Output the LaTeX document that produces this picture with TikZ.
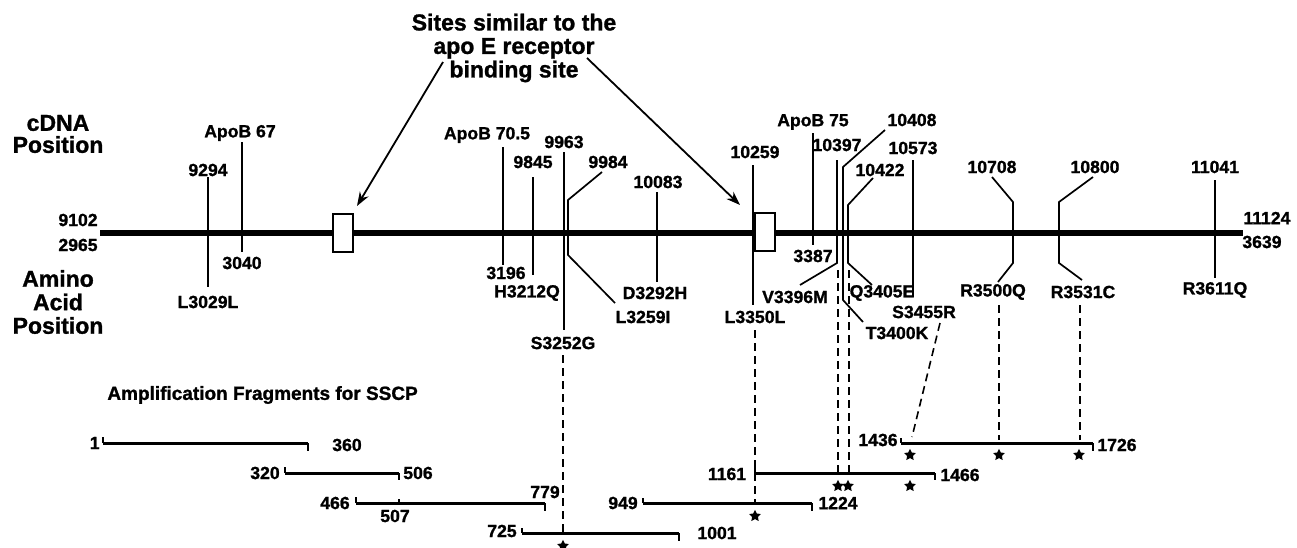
\documentclass[tikz,border=0pt]{standalone}
\usepackage{fontspec}
\setmainfont{Liberation Sans}[BoldFeatures={FakeBold=1.2}]
\usetikzlibrary{arrows.meta,shapes.geometric}
\begin{document}
\begin{tikzpicture}[x=0.5pt,y=-0.5pt,
 lbl/.style={font=\bfseries\fontsize{8.8}{9}\selectfont, inner sep=0pt},
 ttl/.style={font=\bfseries\fontsize{11.5}{11.75}\selectfont, inner sep=0pt, align=center},
 vl/.style={line width=0.85pt},
 dl/.style={line width=0.8pt, dash pattern=on 4pt off 2.5pt},
 frag/.style={line width=1.5pt},
 tick/.style={line width=0.9pt},
 arr/.style={line width=0.9pt,-{Stealth[length=7pt,width=5pt]}},
 ast/.style={star,star points=5,star point ratio=2.0,fill,inner sep=0pt,minimum size=6.2pt},
 ebox/.style={draw,fill=white,line width=0.8pt,minimum width=10pt,minimum height=19pt,inner sep=0pt},
]
\useasboundingbox (0,0) rectangle (1297,547);

% ---- titles ----
\node[ttl] (title) at (514,48) {Sites similar to the\\apo E receptor\\binding site};
\node[ttl,font=\bfseries\fontsize{11.5}{11}\selectfont] (cdna) at (58,134) {cDNA\\Position};
\node[ttl] (aap) at (58,302) {Amino\\Acid\\Position};

% ---- main line ----
\coordinate (ls) at (100,233);
\coordinate (le) at (1243,233);
\draw[line width=3.2pt] (ls) -- (le);
\node[lbl,anchor=east] (s9102) at (98,220) {9102};
\node[lbl,anchor=east] (s2965) at (98,245) {2965};
\node[lbl,anchor=west] (e11124) at (1243,218) {11124};
\node[lbl,anchor=west] (e3639) at (1242,242) {3639};

% ---- marker lines ----
% M1
\node[lbl] (c9294) at (208,170) {9294};
\node[lbl] (aL3029L) at (208,302) {L3029L};
\coordinate (m1t) at (208,177); \coordinate (m1b) at (208,287);
\draw[vl] (m1t) -- (m1b);
% M2
\node[lbl] (cApoB67) at (240,133) {ApoB 67};
\node[lbl] (a3040) at (242,263) {3040};
\coordinate (m2t) at (242,142); \coordinate (m2b) at (242,252);
\draw[vl] (m2t) -- (m2b);
% M3
\node[lbl] (cApoB705) at (487,135) {ApoB 70.5};
\node[lbl] (a3196) at (506,273) {3196};
\coordinate (m3t) at (503,147); \coordinate (m3b) at (503,265);
\draw[vl] (m3t) -- (m3b);
% M4
\node[lbl] (c9845) at (533,162) {9845};
\node[lbl] (aH3212Q) at (527,293) {H3212Q};
\coordinate (m4t) at (533,177); \coordinate (m4b) at (533,275);
\draw[vl] (m4t) -- (m4b);
% M5
\node[lbl] (c9963) at (564,142) {9963};
\node[lbl] (aS3252G) at (563,343) {S3252G};
\coordinate (m5t) at (564,152); \coordinate (m5b) at (564,330);
\draw[vl] (m5t) -- (m5b);
% M6
\node[lbl] (c9984) at (608,162) {9984};
\node[lbl] (aL3259I) at (643,317) {L3259I};
\coordinate (m6a) at (602,172); \coordinate (m6b) at (568,200);
\coordinate (m6c) at (568,255); \coordinate (m6d) at (615,303);
\draw[vl] (m6a) -- (m6b) -- (m6c) -- (m6d);
% M7
\node[lbl] (c10083) at (658,182) {10083};
\node[lbl] (aD3292H) at (655,293) {D3292H};
\coordinate (m7t) at (657,192); \coordinate (m7b) at (657,282);
\draw[vl] (m7t) -- (m7b);
% M8
\node[lbl] (c10259) at (755,152) {10259};
\node[lbl] (aL3350L) at (755,317) {L3350L};
\coordinate (m8t) at (753,165); \coordinate (m8b) at (753,305);
\draw[vl] (m8t) -- (m8b);
% M9
\node[lbl] (cApoB75) at (813,122) {ApoB 75};
\node[lbl] (a3387) at (813,256) {3387};
\coordinate (m9t) at (813,133); \coordinate (m9b) at (813,245);
\draw[vl] (m9t) -- (m9b);
% M10
\node[lbl] (c10397) at (837,145) {10397};
\node[lbl] (aV3396M) at (795,297) {V3396M};
\coordinate (m10a) at (837,160); \coordinate (m10b) at (837,263); \coordinate (m10c) at (800,285);
\draw[vl] (m10a) -- (m10b) -- (m10c);
% M11
\node[lbl] (c10408) at (912,120) {10408};
\node[lbl] (aT3400K) at (897,333) {T3400K};
\coordinate (m11a) at (885,130); \coordinate (m11b) at (843,167);
\coordinate (m11c) at (843,300); \coordinate (m11d) at (863,322);
\draw[vl] (m11a) -- (m11b) -- (m11c) -- (m11d);
% M12
\node[lbl] (c10422) at (880,170) {10422};
\node[lbl] (aQ3405E) at (882,293) {Q3405E};
\coordinate (m12a) at (873,178); \coordinate (m12b) at (848,205);
\coordinate (m12c) at (848,263); \coordinate (m12d) at (872,285);
\draw[vl] (m12a) -- (m12b) -- (m12c) -- (m12d);
% M13
\node[lbl] (c10573) at (913,148) {10573};
\node[lbl] (aS3455R) at (924,312) {S3455R};
\coordinate (m13t) at (913,160); \coordinate (m13b) at (913,297);
\draw[vl] (m13t) -- (m13b);
% M14
\node[lbl] (c10708) at (992,167) {10708};
\node[lbl] (aR3500Q) at (993,292) {R3500Q};
\coordinate (m14a) at (992,177); \coordinate (m14b) at (1013,202);
\coordinate (m14c) at (1013,263); \coordinate (m14d) at (998,282);
\draw[vl] (m14a) -- (m14b) -- (m14c) -- (m14d);
% M15
\node[lbl] (c10800) at (1095,167) {10800};
\node[lbl] (aR3531C) at (1083,292) {R3531C};
\coordinate (m15a) at (1093,177); \coordinate (m15b) at (1059,202);
\coordinate (m15c) at (1059,263); \coordinate (m15d) at (1082,280);
\draw[vl] (m15a) -- (m15b) -- (m15c) -- (m15d);
% M16
\node[lbl] (c11041) at (1215,167) {11041};
\node[lbl] (aR3611Q) at (1215,290) {R3611Q};
\coordinate (m16t) at (1215,180); \coordinate (m16b) at (1215,278);
\draw[vl] (m16t) -- (m16b);

% ---- boxes and arrows ----
\node[ebox] (box1) at (343,233) {};
\node[ebox] (box2) at (765,232) {};
\coordinate (al) at (443,62); \coordinate (tip1) at (357,206);
\coordinate (ar) at (587,58); \coordinate (tip2) at (740,205);
\draw[arr] (al) -- (tip1);
\draw[arr] (ar) -- (tip2);

% ---- fragments ----
\node[font=\bfseries\fontsize{9.5}{11}\selectfont, anchor=west, inner sep=0pt] (fragt) at (107,395) {Amplification Fragments for SSCP};

% F1
\coordinate (f1a) at (103,443); \coordinate (f1b) at (308,443);
\draw[frag] (f1a) -- (f1b);
\draw[tick] (f1a) -- ++(0,-6); \draw[tick] (f1b) -- ++(0,8);
\node[lbl,anchor=east] (n1) at (100,443) {1};
\node[lbl] (n360) at (347,445) {360};
% F2
\coordinate (f2a) at (285,473); \coordinate (f2b) at (399,473);
\draw[frag] (f2a) -- (f2b);
\draw[tick] (f2a) -- ++(0,-6); \draw[tick] (f2b) -- ++(0,7);
\node[lbl] (n320) at (265,473) {320};
\node[lbl] (n506) at (418,473) {506};
% F3
\coordinate (f3a) at (356,503); \coordinate (f3b) at (545,503); \coordinate (f3m) at (399,503);
\draw[frag] (f3a) -- (f3b);
\draw[tick] (f3a) -- ++(0,-6); \draw[tick] (f3b) -- ++(0,8); \draw[tick] (f3m) -- ++(0,-4);
\node[lbl] (n466) at (335,503) {466};
\node[lbl] (n507) at (395,516) {507};
\node[lbl] (n779) at (545,492) {779};
% F4
\coordinate (f4a) at (522,533); \coordinate (f4b) at (679,533);
\draw[frag] (f4a) -- (f4b);
\draw[tick] (f4a) -- ++(0,-5); \draw[tick] (f4b) -- ++(0,8);
\node[lbl] (n725) at (502,531) {725};
\node[lbl] (n1001) at (717,533) {1001};
% F5
\coordinate (f5a) at (643,503); \coordinate (f5b) at (812,503);
\draw[frag] (f5a) -- (f5b);
\draw[tick] (f5a) -- ++(0,-5); \draw[tick] (f5b) -- ++(0,8);
\node[lbl] (n949) at (623,503) {949};
\node[lbl] (n1224) at (838,503) {1224};
% F6
\coordinate (f6a) at (755,473); \coordinate (f6b) at (935,473);
\draw[frag] (f6a) -- (f6b);
\draw[tick] (f6a) -- ++(0,-6); \draw[tick] (f6b) -- ++(0,7);
\node[lbl] (n1161) at (727,474) {1161};
\node[lbl] (n1466) at (960,475) {1466};
% F7
\coordinate (f7a) at (901,443); \coordinate (f7b) at (1093,443);
\draw[frag] (f7a) -- (f7b);
\draw[tick] (f7a) -- ++(0,-5); \draw[tick] (f7b) -- ++(0,8);
\node[lbl] (n1436) at (878,440) {1436};
\node[lbl] (n1726) at (1117,445) {1726};

% ---- dashed links ----
\coordinate (d5t) at (563,355); \coordinate (d5b) at (563,533);
\draw[dl] (d5t) -- (d5b);
\coordinate (d8t) at (755,330); \coordinate (d8b) at (755,503);
\draw[dl] (d8t) -- (d8b);
\coordinate (d10t) at (838,270); \coordinate (d10b) at (838,473);
\draw[dl] (d10t) -- (d10b);
\coordinate (d12t) at (849,270); \coordinate (d12b) at (849,473);
\draw[dl] (d12t) -- (d12b);
\coordinate (d13t) at (940,323); \coordinate (d13b) at (912,437);
\draw[dl] (d13t) -- (d13b);
\coordinate (d14t) at (999,305); \coordinate (d14b) at (999,440);
\draw[dl] (d14t) -- (d14b);
\coordinate (d15t) at (1080,305); \coordinate (d15b) at (1080,440);
\draw[dl] (d15t) -- (d15b);

% ---- mutation stars ----
\node[ast] (s1) at (563,546) {};
\node[ast] (s2) at (755,516) {};
\node[ast] (s3) at (838,486) {};
\node[ast] (s4) at (848,486) {};
\node[ast] (s5) at (910,486) {};
\node[ast] (s6) at (910,455) {};
\node[ast] (s7) at (999,455) {};
\node[ast] (s8) at (1079,455) {};
\end{tikzpicture}
\end{document}
